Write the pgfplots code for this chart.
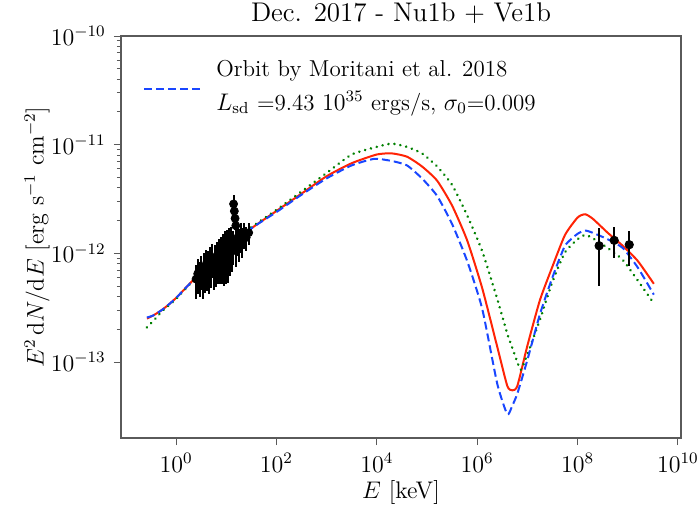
\documentclass[border=0pt]{standalone}
\usepackage{pgfplots}
\pgfplotsset{compat=1.18}
\definecolor{myred}{RGB}{255,35,5}
\definecolor{myblue}{RGB}{25,70,255}
\definecolor{mygreen}{RGB}{0,128,0}
\definecolor{framegray}{RGB}{90,90,90}
\begin{document}
\fontsize{12}{14}\selectfont
\begin{tikzpicture}
\begin{axis}[
  scale only axis, width=280pt, height=201pt,
  xmode=log, ymode=log,
  xmin=0.08, xmax=1.15e10, ymin=2e-14, ymax=1e-10,
  xtick={1,1e2,1e4,1e6,1e8,1e10},
  xticklabels={$10^{0}$,$10^{2}$,$10^{4}$,$10^{6}$,$10^{8}$,$10^{10}$},
  minor xtick={},
  ytick={1e-13,1e-12,1e-11,1e-10},
  yticklabels={$10^{-13}$,$10^{-12}$,$10^{-11}$,$10^{-10}$},
  tick align=outside, tick pos=left,
  major tick length=3.5pt, minor tick length=2pt,
  axis line style={framegray, line width=0.6pt},
  every tick/.style={framegray, line width=0.5pt},
  tick label style={font=\fontsize{12}{14}\selectfont},
  every axis x label/.style={at={(rel axis cs:0.5,0)}, anchor=base, yshift=-30pt, font=\fontsize{12}{14}\selectfont},
  every axis y label/.style={at={(rel axis cs:0,0.5)}, xshift=-42pt, rotate=90, anchor=center, font=\fontsize{12}{14}\selectfont},
  every axis title/.style={at={(rel axis cs:0.5,1)}, anchor=base, yshift=7.5pt, font=\fontsize{13.5}{16}\selectfont},
  title={Dec. 2017 - Nu1b + Ve1b},
  xlabel={$E$ [keV]},
  ylabel={$E^2\,\mathrm{d}N/\mathrm{d}E$ [erg s$^{-1}$ cm$^{-2}$]},
  legend cell align=left,
  legend style={draw=none, fill=none, at={(0,1)}, anchor=north west,
    xshift=8pt, yshift=-6pt, font=\fontsize{11.5}{14}\selectfont,
    /tikz/every even column/.append style={column sep=0pt},
    nodes={inner xsep=6pt}},
  legend image code/.code={\draw[#1] (0pt,-2pt) -- (29.5pt,-2pt);},
  clip=true,
]
% red solid
\addplot[myred, line width=1pt, smooth, tension=0.35, forget plot] coordinates {
(0.263,2.512e-13) (0.355,2.692e-13) (0.562,3.090e-13) (1,3.890e-13)
(3.162,6.761e-13) (10,1.096e-12) (31.62,1.698e-12) (100,2.455e-12)
(316.2,3.548e-12) (1000,5.129e-12) (3162,6.761e-12) (1e4,8.128e-12)
(19950,8.318e-12) (39810,7.762e-12) (79430,6.310e-12) (1.585e5,4.677e-12)
(3.162e5,2.754e-12) (6.310e5,1.318e-12) (1.259e6,4.786e-13) (2.512e6,1.380e-13)
(3.981e6,6.026e-14) (5.012e6,5.495e-14) (6.310e6,6.026e-14) (1e7,1.413e-13)
(1.778e7,3.715e-13) (3.162e7,7.586e-13) (5.623e7,1.479e-12) (1e8,2.138e-12)
(1.413e8,2.291e-12) (1.995e8,2.089e-12) (3.981e8,1.549e-12) (7.943e8,1.175e-12)
(1.585e9,8.511e-13) (3.311e9,5.248e-13)
};
% green dotted
\addplot[mygreen, line width=1.4pt, dash pattern=on 0.01pt off 3pt, line cap=round, smooth, tension=0.35, forget plot] coordinates {
(0.263,2.089e-13) (0.355,2.399e-13) (0.562,3.020e-13) (1,3.802e-13)
(3.162,6.761e-13) (10,1.096e-12) (31.62,1.738e-12) (100,2.512e-12)
(316.2,3.715e-12) (1000,5.495e-12) (3162,8.128e-12) (1e4,9.550e-12)
(19950,1.023e-11) (39810,9.550e-12) (79430,8.318e-12) (1.585e5,6.310e-12)
(3.162e5,4.266e-12) (6.310e5,2.239e-12) (1.259e6,1.047e-12) (2.512e6,3.802e-13)
(3.981e6,1.820e-13) (5.012e6,1.349e-13) (6.310e6,1.000e-13) (7.413e6,8.511e-14)
(1e7,1.175e-13) (1.778e7,2.455e-13) (3.162e7,5.495e-13) (5.623e7,1.023e-12)
(1e8,1.349e-12) (1.413e8,1.479e-12) (1.995e8,1.380e-12) (3.981e8,1.122e-12)
(7.943e8,8.710e-13) (1.585e9,5.623e-13) (3.311e9,3.467e-13)
};
% blue dashed
\addplot[myblue, line width=1pt, dash pattern=on 4pt off 2pt, smooth, tension=0.35] coordinates {
(0.263,2.570e-13) (0.355,2.692e-13) (0.562,3.090e-13) (1,3.890e-13)
(3.162,6.761e-13) (10,1.096e-12) (31.62,1.698e-12) (100,2.399e-12)
(316.2,3.467e-12) (1000,4.898e-12) (3162,6.457e-12) (8913,7.413e-12)
(19950,7.079e-12) (39810,6.457e-12) (79430,4.898e-12)
(1.585e5,3.388e-12) (3.162e5,1.862e-12) (6.310e5,8.511e-13) (1.259e6,3.090e-13)
(2.512e6,6.310e-14) (3.981e6,3.311e-14) (5.012e6,3.981e-14) (6.310e6,5.129e-14)
(1e7,1.047e-13) (1.778e7,2.754e-13) (3.162e7,6.026e-13) (5.623e7,1.175e-12)
(1e8,1.514e-12) (1.413e8,1.622e-12) (1.995e8,1.549e-12) (3.981e8,1.349e-12)
(7.943e8,1.122e-12) (1.585e9,7.413e-13) (3.311e9,4.169e-13)
};
\addlegendentry{\begin{tabular}[b]{@{}l@{}}Orbit by Moritani et al. 2018\\[3pt] $L_{\rm sd}$ =9.43 $10^{35}$ ergs/s, $\sigma_0$=0.009\end{tabular}}
% X-ray data
\addplot[only marks, mark=*, mark size=2pt, black, forget plot,
  error bars/.cd, y dir=both, y explicit, error mark=none,
  error bar style={line width=1pt, black}]
  table[x=x, y=y, y error=ey] {
x y ey
2.5 5.8e-13 2.0e-13
2.7 6.5e-13 2.3e-13
3.0 6.2e-13 2.2e-13
3.2 7.0e-13 2.4e-13
3.4 5.8e-13 2.0e-13
3.6 7.5e-13 2.6e-13
3.8 6.6e-13 2.3e-13
4.0 8.0e-13 2.8e-13
4.2 6.9e-13 2.4e-13
4.4 7.8e-13 2.7e-13
4.6 6.4e-13 2.2e-13
4.8 8.5e-13 3.0e-13
5.0 7.3e-13 2.5e-13
5.3 9.0e-13 3.1e-13
5.6 7.0e-13 2.4e-13
5.9 8.8e-13 3.1e-13
6.2 7.6e-13 2.7e-13
6.5 9.5e-13 3.3e-13
6.8 8.0e-13 2.8e-13
7.1 1.00e-12 3.5e-13
7.5 8.4e-13 3.2e-13
7.9 1.05e-12 3.6e-13
8.3 8.8e-13 3.6e-13
8.7 1.10e-12 4.0e-13
9.1 9.0e-13 4.0e-13
9.6 1.15e-12 4.5e-13
10.0 9.4e-13 4.2e-13
10.5 1.20e-12 4.5e-13
11.0 9.8e-13 4.5e-13
11.5 1.25e-12 4.5e-13
12.0 1.02e-12 4.0e-13
12.6 1.30e-12 4.5e-13
13.2 1.05e-12 3.7e-13
13.8 1.20e-12 4.2e-13
14.0 2.85e-12 6.0e-13
14.5 2.45e-12 5.0e-13
15.0 2.10e-12 4.5e-13
15.5 1.80e-12 4.0e-13
16.0 1.15e-12 4.0e-13
17.0 1.40e-12 4.5e-13
18.0 1.25e-12 4.2e-13
19.5 1.45e-12 4.5e-13
21.0 1.30e-12 4.0e-13
23.0 1.50e-12 4.0e-13
25.0 1.40e-12 3.5e-13
28.0 1.55e-12 3.5e-13
};
% Fermi data
\addplot[only marks, mark=*, mark size=2.1pt, black, forget plot,
  error bars/.cd, y dir=both, y explicit, error mark=none,
  error bar style={line width=1pt, black}]
  coordinates {
(2.69e8,1.175e-12) += (0,0.52e-12) -= (0,0.67e-12)
(5.37e8,1.318e-12) += (0,0.42e-12) -= (0,0.41e-12)
(1.07e9,1.202e-12) += (0,0.42e-12) -= (0,0.44e-12)
};
\coordinate (ll) at (rel axis cs:0,0);
\coordinate (ur) at (rel axis cs:1,1);
\end{axis}
\pgfresetboundingbox
\path ([xshift=-60.5pt,yshift=-33pt]ll) rectangle ([xshift=8pt,yshift=18pt]ur);
\end{tikzpicture}
\end{document}
